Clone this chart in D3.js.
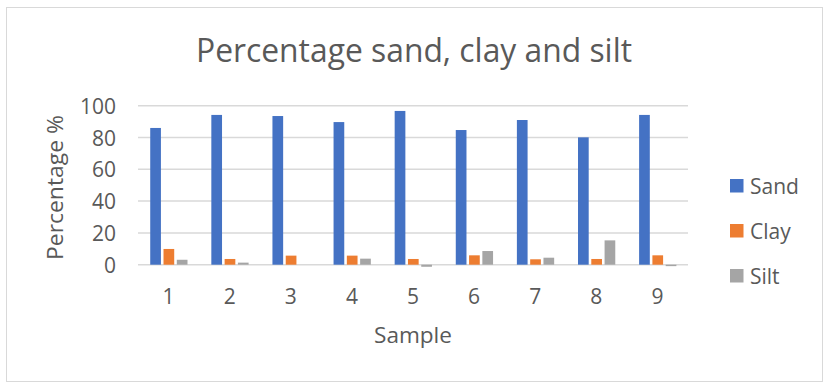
<!DOCTYPE html>
<html>
<head>
<meta charset="utf-8">
<script src="https://cdn.jsdelivr.net/npm/d3@7"></script>
<style>
  html, body { margin: 0; padding: 0; background: #fff; }
  svg { display: block; }
  text { font-family: "Open Sans", "Liberation Sans", sans-serif; fill: #595959; }
</style>
</head>
<body>
<svg id="chart" width="824" height="383"></svg>
<script>
// Sample numbers and soil fractions (%)
const samples = ["1", "2", "3", "4", "5", "6", "7", "8", "9"];
const seriesNames = ["Sand", "Clay", "Silt"];
const sand = [86, 94.2, 93.5, 89.7, 96.7, 84.7, 91, 80.1, 94.2];
const clay = [9.9, 3.6, 5.7, 5.7, 3.6, 5.9, 3.4, 3.6, 5.9];
const silt = [3.1, 1.3, 0, 3.8, -1.3, 8.6, 4.4, 15.3, -0.9];
const yTicks = [0, 20, 40, 60, 80, 100];
const colors = ["#4472C4", "#ED7D31", "#A5A5A5"];

const seriesValues = [sand, clay, silt];
const rows = [];
samples.forEach((s, i) => {
  seriesNames.forEach((name, j) => {
    rows.push({ sample: s, series: name, value: seriesValues[j][i] });
  });
});

const svg = d3.select("#chart");

// Chart area frame
svg.append("rect")
  .attr("x", 6.5).attr("y", 7.5)
  .attr("width", 816).attr("height", 374)
  .attr("fill", "#fff")
  .attr("stroke", "#d9d9d9")
  .attr("stroke-width", 1);

const plot = { left: 138, right: 688, top: 105.7, bottom: 264.7 };

const x = d3.scaleBand().domain(samples).range([plot.left, plot.right]).padding(0);
const bw = x.bandwidth();
const x1 = d3.scaleBand().domain(seriesNames)
  .range([bw * 0.2, bw * 0.81]).paddingInner(0.195).paddingOuter(0);
const y = d3.scaleLinear().domain([0, 100]).range([plot.bottom, plot.top]);
const color = d3.scaleOrdinal().domain(seriesNames).range(colors);

// Horizontal gridlines
svg.append("g")
  .selectAll("line")
  .data(yTicks)
  .join("line")
  .attr("x1", plot.left).attr("x2", plot.right)
  .attr("y1", d => y(d)).attr("y2", d => y(d))
  .attr("stroke", "#d9d9d9")
  .attr("stroke-width", 1.5);

// Y tick labels
const yAxis = d3.axisLeft(y).tickValues(yTicks).tickSize(0).tickPadding(0);
const gy = svg.append("g")
  .attr("transform", `translate(${116},0)`)
  .call(yAxis);
gy.select(".domain").remove();
gy.selectAll("text")
  .attr("font-size", 21)
  .attr("font-family", "'Open Sans', sans-serif")
  .attr("fill", "#595959")
  .attr("dy", "0.36em");

// Bars
svg.append("g")
  .selectAll("rect")
  .data(rows)
  .join("rect")
  .attr("x", d => x(d.sample) + x1(d.series))
  .attr("width", x1.bandwidth())
  .attr("y", d => Math.min(y(d.value), y(0)))
  .attr("height", d => Math.abs(y(d.value) - y(0)))
  .attr("fill", d => color(d.series));

// X tick labels
const xAxis = d3.axisBottom(x).tickSize(0).tickPadding(0);
const gx = svg.append("g")
  .attr("transform", `translate(0,${304})`)
  .call(xAxis);
gx.select(".domain").remove();
gx.selectAll("text")
  .attr("font-size", 21)
  .attr("font-family", "'Open Sans', sans-serif")
  .attr("fill", "#595959")
  .attr("dy", 0)
  .attr("y", 0);

// Title
svg.append("text")
  .attr("x", 414).attr("y", 62)
  .attr("text-anchor", "middle")
  .attr("font-size", 32)
  .attr("textLength", 436)
  .attr("lengthAdjust", "spacingAndGlyphs")
  .text("Percentage sand, clay and silt");

// Axis titles
svg.append("text")
  .attr("x", 413).attr("y", 343)
  .attr("text-anchor", "middle")
  .attr("font-size", 22)
  .attr("textLength", 78)
  .attr("lengthAdjust", "spacingAndGlyphs")
  .text("Sample");

svg.append("text")
  .attr("transform", "translate(63,187.5) rotate(-90)")
  .attr("text-anchor", "middle")
  .attr("font-size", 21)
  .attr("textLength", 145)
  .attr("lengthAdjust", "spacingAndGlyphs")
  .text("Percentage %");

// Legend
const legend = svg.append("g")
  .selectAll("g")
  .data(seriesNames)
  .join("g")
  .attr("transform", (d, i) => `translate(730,${179 + i * 45})`);
legend.append("rect")
  .attr("width", 13.5).attr("height", 13.5)
  .attr("fill", d => color(d));
legend.append("text")
  .attr("x", 20).attr("y", 14.5)
  .attr("font-size", 21)
  .text(d => d);
</script>
</body>
</html>
